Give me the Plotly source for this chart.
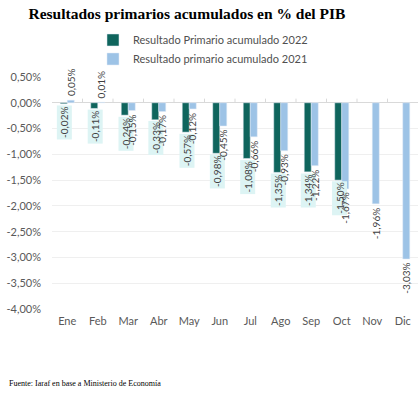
import plotly.graph_objects as go

meses = ["Ene", "Feb", "Mar", "Abr", "May", "Jun", "Jul", "Ago", "Sep", "Oct", "Nov", "Dic"]
r2022 = [-0.02, -0.11, -0.24, -0.33, -0.57, -0.98, -1.08, -1.35, -1.34, -1.50, None, None]
r2021 = [0.05, 0.01, -0.15, -0.17, -0.12, -0.45, -0.66, -0.93, -1.22, -1.67, -1.96, -3.03]
yticks = [0.5, 0.0, -0.5, -1.0, -1.5, -2.0, -2.5, -3.0, -3.5, -4.0]

name22 = "Resultado Primario acumulado 2022"
name21 = "Resultado primario acumulado 2021"
c22 = "#0f655d"
c21 = "#9dc3e6"
lblbg = "#ddf4f4"
txt = "#404040"
sans = "Lato, 'Open Sans', sans-serif"
serif = "'Liberation Serif', 'DejaVu Serif', serif"


def fmt(v):
    s = f"{v:.2f}".replace(".", ",")
    return s + "%"


fig = go.Figure()
fig.add_trace(go.Bar(x=meses, y=r2022, name=name22, marker_color=c22))
fig.add_trace(go.Bar(x=meses, y=r2021, name=name21, marker_color=c21))

off = 3.6
ann = []
for m, v in zip(meses, r2022):
    if v is None:
        continue
    ann.append(dict(x=m, y=v, xref="x", yref="y", text=fmt(v), textangle=-90,
                    showarrow=False, xshift=-off + 1, yshift=-1,
                    yanchor="top" if v < 0 else "bottom", xanchor="center",
                    bgcolor=lblbg, borderpad=1,
                    font=dict(family=sans, size=10, color=txt)))
for m, v in zip(meses, r2021):
    if v is None:
        continue
    ann.append(dict(x=m, y=v, xref="x", yref="y", text=fmt(v), textangle=-90,
                    showarrow=False, xshift=off, yshift=-2 if v < 0 else 2,
                    yanchor="top" if v < 0 else "bottom", xanchor="center",
                    font=dict(family=sans, size=10, color=txt)))
ann.append(dict(x=-0.122, y=-0.323, xref="paper", yref="paper",
                text="Fuente: Iaraf en base a Ministerio de Economía",
                showarrow=False, xanchor="left", yanchor="middle",
                font=dict(family=serif, size=8, color="#000000")))

shapes = []
for i in range(len(meses) - 1):
    shapes.append(dict(type="line", xref="x", yref="y", x0=i + 0.5, x1=i + 0.5,
                       y0=0, y1=0.08, line=dict(color="#d9d9d9", width=1)))

fig.update_layout(
    width=420, height=404,
    margin=dict(l=52, r=2, t=77, b=95),
    paper_bgcolor="white", plot_bgcolor="white",
    barmode="group", bargap=0.54, bargroupgap=0,
    title=dict(text="<b>Resultados primarios acumulados en % del PIB</b>",
               xref="container", yref="container", x=0.445, xanchor="center",
               y=1 - 14 / 404, yanchor="middle",
               font=dict(family=serif, size=15.5, color="#000000")),
    legend=dict(orientation="v", x=0.112, xanchor="left", y=1.222, yanchor="top",
                font=dict(family=sans, size=11, color="#505050"),
                bgcolor="rgba(0,0,0,0)", itemwidth=30, tracegroupgap=0),
    showlegend=True,
    annotations=ann,
    shapes=shapes,
    xaxis=dict(showgrid=False, showline=False, ticks="", ticklabelstandoff=4,
               tickfont=dict(family=sans, size=11, color="#595959")),
    yaxis=dict(range=[-4.0, 0.5], tickvals=yticks, ticktext=[fmt(v) for v in yticks],
               showgrid=True, gridcolor="#efefef", gridwidth=1,
               zeroline=True, zerolinecolor="#d9d9d9", zerolinewidth=1,
               showline=False, ticks="", ticklabelstandoff=10,
               tickfont=dict(family=sans, size=11, color="#595959")),
)

fig.write_html("out.html")
